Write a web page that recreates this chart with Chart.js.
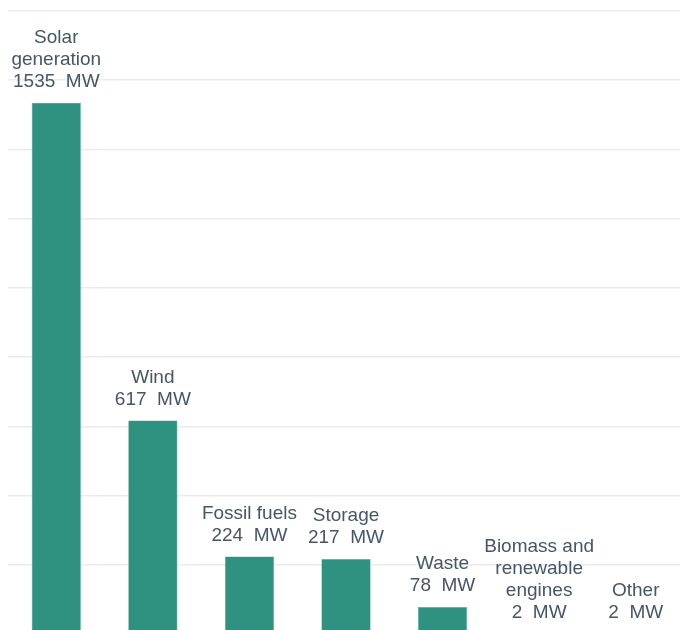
<!DOCTYPE html>
<html>
<head>
<meta charset="utf-8">
<script src="https://cdn.jsdelivr.net/npm/chart.js@4"></script>
<style>
  html, body { margin: 0; padding: 0; overflow: hidden; background: #fff; }
  #wrap { position: absolute; left: 0; top: 0; width: 684px; height: 634px; }
</style>
</head>
<body>
<div id="wrap"><canvas id="chart"></canvas></div>
<script>
// Данные
const categories = [
  ["Solar", "generation"],
  ["Wind"],
  ["Fossil fuels"],
  ["Storage"],
  ["Waste"],
  ["Biomass and", "renewable", "engines"],
  ["Other"]
];
const capacityMW = [1535, 617, 224, 217, 78, 2, 2];
const unit = "MW";

// Подписи над столбцами
const barLabels = {
  id: "barLabels",
  afterDatasetsDraw(chart) {
    const ctx = chart.ctx;
    const meta = chart.getDatasetMeta(0);
    ctx.save();
    ctx.font = "19px 'Liberation Sans', Arial, sans-serif";
    ctx.fillStyle = "#475569";
    ctx.textAlign = "center";
    ctx.textBaseline = "middle";
    meta.data.forEach((bar, i) => {
      const lines = categories[i].concat([capacityMW[i] + "  " + unit]);
      let y = bar.y - 21;
      for (let k = lines.length - 1; k >= 0; k--) {
        ctx.fillText(lines[k], bar.x, y);
        y -= 22;
      }
    });
    ctx.restore();
  }
};

new Chart(document.getElementById("chart"), {
  type: "bar",
  data: {
    labels: categories,
    datasets: [{
      data: capacityMW,
      backgroundColor: "#2f9180",
      borderColor: "#5aa898",
      borderWidth: 0.6,
      categoryPercentage: 1,
      barPercentage: 0.51
    }]
  },
  options: {
    responsive: true,
    maintainAspectRatio: false,
    animation: false,
    layout: { padding: { left: 8, top: 11, right: 0, bottom: 0 } },
    plugins: { legend: { display: false }, tooltip: { enabled: false } },
    scales: {
      x: { display: false },
      y: {
        min: 0,
        max: 1800,
        ticks: { display: false, stepSize: 200 },
        border: { display: false },
        grid: { color: "#ececec", lineWidth: 1.5, drawTicks: false }
      }
    }
  },
  plugins: [barLabels]
});
</script>
</body>
</html>
